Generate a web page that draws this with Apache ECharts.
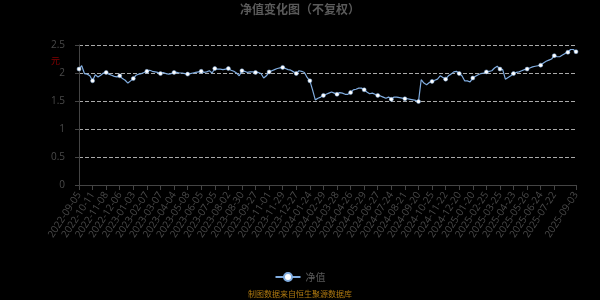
<!DOCTYPE html>
<html>
<head>
<meta charset="utf-8">
<script src="https://cdn.jsdelivr.net/npm/echarts@6/dist/echarts.min.js"></script>
<style>html,body{margin:0;padding:0;background:#000;}#c{width:600px;height:300px;}</style>
</head>
<body>
<div id="c"></div>
<script>
const dates = [
'2022-09-05','2022-09-09','2022-09-16','2022-09-22','2022-09-28',
'2022-10-11','2022-10-17','2022-10-21','2022-10-27','2022-11-02',
'2022-11-08','2022-11-14','2022-11-18','2022-11-24','2022-11-30',
'2022-12-06','2022-12-12','2022-12-16','2022-12-22','2022-12-28',
'2023-01-03','2023-01-09','2023-01-13','2023-01-19','2023-02-01',
'2023-02-07','2023-02-13','2023-02-17','2023-02-23','2023-03-01',
'2023-03-07','2023-03-13','2023-03-17','2023-03-23','2023-03-29',
'2023-04-04','2023-04-11','2023-04-17','2023-04-21','2023-04-27',
'2023-05-08','2023-05-12','2023-05-18','2023-05-24','2023-05-30',
'2023-06-05','2023-06-09','2023-06-15','2023-06-21','2023-06-29',
'2023-07-05','2023-07-11','2023-07-17','2023-07-21','2023-07-27',
'2023-08-02','2023-08-08','2023-08-14','2023-08-18','2023-08-24',
'2023-08-30','2023-09-05','2023-09-11','2023-09-15','2023-09-21',
'2023-09-27','2023-10-11','2023-10-17','2023-10-23','2023-10-27',
'2023-11-01','2023-11-07','2023-11-13','2023-11-17','2023-11-23',
'2023-11-29','2023-12-05','2023-12-11','2023-12-15','2023-12-21',
'2023-12-27','2024-01-03','2024-01-09','2024-01-15','2024-01-19',
'2024-01-24','2024-01-30','2024-02-05','2024-02-19','2024-02-23',
'2024-02-29','2024-03-06','2024-03-12','2024-03-18','2024-03-22',
'2024-03-28','2024-04-03','2024-04-11','2024-04-17','2024-04-23',
'2024-04-26','2024-05-07','2024-05-13','2024-05-17','2024-05-23',
'2024-05-29','2024-06-04','2024-06-11','2024-06-17','2024-06-21',
'2024-06-27','2024-07-03','2024-07-09','2024-07-15','2024-07-19',
'2024-07-24','2024-07-30','2024-08-05','2024-08-09','2024-08-15',
'2024-08-21','2024-08-27','2024-09-02','2024-09-06','2024-09-12',
'2024-09-20','2024-09-26','2024-10-09','2024-10-15','2024-10-21',
'2024-10-25','2024-10-31','2024-11-06','2024-11-12','2024-11-18',
'2024-11-22','2024-11-28','2024-12-04','2024-12-10','2024-12-16',
'2024-12-20','2024-12-26','2025-01-02','2025-01-08','2025-01-14',
'2025-01-20','2025-01-24','2025-02-07','2025-02-13','2025-02-19',
'2025-02-25','2025-03-03','2025-03-07','2025-03-13','2025-03-19',
'2025-03-25','2025-03-31','2025-04-07','2025-04-11','2025-04-17',
'2025-04-23','2025-04-29','2025-05-08','2025-05-14','2025-05-20',
'2025-05-26','2025-05-30','2025-06-06','2025-06-12','2025-06-18',
'2025-06-24','2025-06-30','2025-07-04','2025-07-10','2025-07-16',
'2025-07-22','2025-07-28','2025-08-01','2025-08-07','2025-08-13','2025-08-19','2025-08-25','2025-08-29',
'2025-09-03'
];
const nav = [
2.07,2.13,1.99,1.98,1.95,
1.86,1.97,1.93,1.96,2.00,
2.01,1.98,1.96,1.94,1.93,
1.95,1.90,1.87,1.82,1.86,
1.90,1.96,1.98,1.99,2.01,
2.03,2.05,2.03,2.02,2.01,
1.99,2.01,1.99,1.98,1.99,
2.01,2.01,2.00,2.00,1.99,
1.98,1.99,2.00,2.01,2.02,
2.03,2.01,2.02,2.04,2.00,
2.08,2.07,2.07,2.06,2.07,
2.08,2.05,2.03,2.00,1.95,
2.04,2.03,2.01,2.02,2.02,
2.01,2.01,1.99,1.91,1.95,
2.02,2.04,2.06,2.08,2.09,
2.10,2.08,2.06,2.05,2.02,
1.99,2.04,2.03,2.01,1.92,
1.86,1.70,1.52,1.55,1.57,
1.60,1.62,1.64,1.66,1.64,
1.62,1.65,1.64,1.62,1.62,
1.65,1.70,1.71,1.73,1.73,
1.70,1.66,1.63,1.64,1.62,
1.60,1.59,1.57,1.55,1.57,
1.53,1.57,1.57,1.56,1.55,
1.54,1.54,1.53,1.52,1.51,
1.49,1.88,1.82,1.79,1.83,
1.85,1.87,1.89,1.95,1.92,
1.89,1.95,1.98,2.02,2.03,
1.99,1.95,1.86,1.86,1.84,
1.91,1.94,1.97,1.99,2.00,
2.02,2.03,2.04,2.09,2.12,
2.07,2.06,1.89,1.92,1.95,
1.99,2.01,2.02,2.04,2.06,
2.07,2.09,2.11,2.12,2.13,
2.14,2.18,2.21,2.23,2.25,
2.31,2.29,2.29,2.32,2.35,2.37,2.42,2.42,
2.38
];
const chartTitle = '净值变化图（不复权）';
const seriesName = '净值';
const unitName = '元';
const sourceText = '制图数据来自恒生聚源数据库';

const chart = echarts.init(document.getElementById('c'), null, {renderer: 'canvas'});
chart.setOption({
  backgroundColor: '#000',
  animation: false,
  title: {
    text: chartTitle, left: 'center', top: -2,
    textStyle: {color: '#5a5a5a', fontSize: 12, fontWeight: 'bold', fontFamily: 'Noto Sans CJK SC'}
  },
  legend: {
    bottom: 13, left: 'center',
    itemWidth: 25, itemHeight: 10,
    textStyle: {color: '#5a5a5a', fontSize: 10, fontFamily: 'Noto Sans CJK SC'},
    data: [seriesName]
  },
  graphic: [
    {type: 'text', left: 'center', top: 290,
     style: {text: sourceText, fill: '#b07a10', fontSize: 8, fontFamily: 'Noto Sans CJK SC'}},
    {type: 'text', left: 51, top: 56,
     style: {text: unitName, fill: '#8a0000', fontSize: 9, fontFamily: 'Noto Sans CJK SC'}}
  ],
  grid: {left: 79, right: 24, top: 45, bottom: 115, containLabel: false},
  xAxis: {
    type: 'category', data: dates, boundaryGap: false,
    axisLine: {lineStyle: {color: '#444'}},
    axisTick: {lineStyle: {color: '#444'}, interval: 4},
    axisLabel: {color: '#4a4a4a', fontSize: 10, rotate: 57, interval: 4,
      showMinLabel: true, showMaxLabel: true, hideOverlap: false, fontFamily: 'Open Sans'}
  },
  yAxis: {
    type: 'value', min: 0, max: 2.5, interval: 0.5,
    axisLine: {show: true, lineStyle: {color: '#444'}},
    axisTick: {show: true, length: 4, lineStyle: {color: '#444'}},
    axisLabel: {color: '#4a4a4a', fontSize: 10, margin: 14, showMinLabel: true, fontFamily: 'Open Sans'},
    splitLine: {lineStyle: {color: '#aaa', type: 'dashed'}}
  },
  series: [{
    name: seriesName, type: 'line', data: nav,
    showSymbol: true, showAllSymbol: 'auto',
    symbol: 'circle', symbolSize: 4,
    lineStyle: {color: '#80acdf', width: 1.2},
    itemStyle: {color: '#ffffff', borderColor: '#80acdf', borderWidth: 0.5}
  }]
});
</script>
</body>
</html>
